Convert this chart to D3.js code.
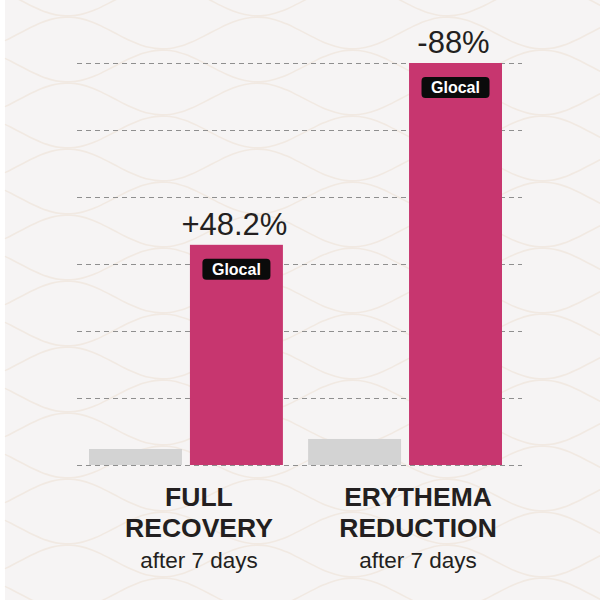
<!DOCTYPE html>
<html>
<head>
<meta charset="utf-8">
<script src="https://cdn.jsdelivr.net/npm/d3@7"></script>
<style>
	body { margin: 0; background: #fff; }
	svg { display: block; }
	text { font-family: "Liberation Sans", Arial, Helvetica, sans-serif; }
</style>
</head>
<body>
<svg id="chart" width="600" height="600"></svg>
<script>
// chart values
var categories = ["FULL RECOVERY", "ERYTHEMA REDUCTION"];
var categoryLines = [["FULL", "RECOVERY"], ["ERYTHEMA", "REDUCTION"]];
var subLabels = ["after 7 days", "after 7 days"];
var series = ["control", "glocal"];
var controlValues = [3.5, 5.7];
var glocalValues = [48.2, 88];
var valueLabels = ["+48.2%", "-88%"];
var badgeLabel = "Glocal";

drawChart();

function drawChart(){
	var svg = d3.select("#chart");
	var W = 600, H = 600;

	// background + faint wave pattern
	svg.append("rect").attr("width", W).attr("height", H).attr("fill", "#f6f4f4");
	svg.append("rect").attr("width", 5).attr("height", H).attr("fill", "#ffffff");

	var wave = d3.line().curve(d3.curveBasis);
	var bg = svg.append("g").attr("fill", "none").attr("stroke", "#f1e9e2").attr("stroke-width", 1.6);
	for (var r = -2; r < 22; r++) {
		var pts = [];
		var phase = (r % 2) * Math.PI;
		for (var px = 5; px <= W + 10; px += 6) {
			pts.push([px, r * 33 + 16 * Math.sin(2 * Math.PI * (px - 20) / 190 + phase)]);
		}
		bg.append("path").attr("d", wave(pts));
	}

	var y = d3.scaleLinear().domain([0, 88]).range([465, 63]);
	var x0 = d3.scaleBand().domain(categories).range([89, 502]).paddingInner(0.115).paddingOuter(0);
	var x1 = d3.scaleBand().domain(series).range([0, x0.bandwidth()]).paddingInner(0.079);

	// dashed grid
	var gridValues = d3.range(7).map(function(i){ return i * 88 / 6; });
	svg.append("g").selectAll("line").data(gridValues).enter().append("line")
		.attr("x1", 77).attr("x2", 522)
		.attr("y1", function(d){ return Math.round(y(d)) + 0.5; })
		.attr("y2", function(d){ return Math.round(y(d)) + 0.5; })
		.attr("stroke", "#8f8f8f")
		.attr("stroke-width", 1)
		.attr("stroke-dasharray", "5,4");

	var groups = svg.append("g").selectAll("g").data(categories).enter().append("g")
		.attr("transform", function(d){ return "translate(" + x0(d) + ",0)"; });

	// control bars
	groups.append("rect")
		.attr("x", x1("control"))
		.attr("width", x1.bandwidth())
		.attr("y", function(d, i){ return y(controlValues[i]); })
		.attr("height", function(d, i){ return y(0) - y(controlValues[i]); })
		.attr("fill", "#d3d3d3");

	// glocal bars
	groups.append("rect")
		.attr("x", x1("glocal"))
		.attr("width", x1.bandwidth())
		.attr("y", function(d, i){ return y(glocalValues[i]); })
		.attr("height", function(d, i){ return y(0) - y(glocalValues[i]); })
		.attr("fill", "#c7366f");

	var gx = x1("glocal") + x1.bandwidth() / 2;

	groups.append("text")
		.text(function(d, i){ return valueLabels[i]; })
		.attr("x", gx - 2)
		.attr("y", function(d, i){ return y(glocalValues[i]) - 10; })
		.attr("text-anchor", "middle")
		.attr("font-size", 31)
		.attr("fill", "#231f20");

	groups.append("rect")
		.attr("x", gx - 34)
		.attr("y", function(d, i){ return y(glocalValues[i]) + 14; })
		.attr("width", 68)
		.attr("height", 21)
		.attr("rx", 4)
		.attr("fill", "#0b0b0b");

	groups.append("text")
		.text(badgeLabel)
		.attr("x", gx)
		.attr("y", function(d, i){ return y(glocalValues[i]) + 30; })
		.attr("text-anchor", "middle")
		.attr("font-size", 16)
		.attr("font-weight", "bold")
		.attr("fill", "#ffffff");

	// category labels
	var cx = x0.bandwidth() / 2 + 13;
	groups.each(function(d, i){
		var g = d3.select(this);
		categoryLines[i].forEach(function(line, j){
			g.append("text")
				.text(line)
				.attr("x", cx)
				.attr("y", 506 + j * 31)
				.attr("text-anchor", "middle")
				.attr("font-size", 26.5)
				.attr("font-weight", "bold")
				.attr("fill", "#231f20");
		});
		g.append("text")
			.text(subLabels[i])
			.attr("x", cx)
			.attr("y", 568)
			.attr("text-anchor", "middle")
			.attr("font-size", 22.5)
			.attr("fill", "#231f20");
	});
}
</script>
</body>
</html>
